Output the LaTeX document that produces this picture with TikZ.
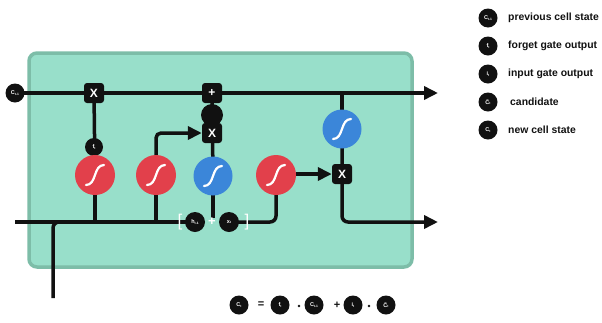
\documentclass[tikz,border=0pt]{standalone}
\usepackage{fontspec}
\setmainfont{Liberation Sans}
\usetikzlibrary{arrows.meta}
\pgfdeclarelayer{bg}
\pgfdeclarelayer{wires}
\pgfsetlayers{bg,wires,main}

\definecolor{cellfill}{HTML}{98DFCA}
\definecolor{celledge}{HTML}{7DBDA8}
\definecolor{sigred}{HTML}{E2404B}
\definecolor{tanhblue}{HTML}{3B86D9}
\definecolor{ink}{HTML}{111111}

% small subscript used inside the black label dots
\newcommand\lsub[1]{\raisebox{-0.7pt}{\fontsize{3.3}{3.3}\selectfont #1}}

\tikzset{
  wire/.style={line width=3.5pt, draw=ink},
  arr/.style={wire, -{Triangle[length=14pt,width=13pt]}},
  opbox/.style={fill=ink, rounded corners=3pt, minimum size=20pt, inner sep=0pt,
    text=white, font=\bfseries\fontsize{12}{12}\selectfont},
  dotc/.style={circle, fill=ink, minimum size=#1, inner sep=0pt, text=white,
    font=\bfseries\fontsize{5.5}{5.5}\selectfont},
  dotc/.default=19pt,
  scurve/.style={path picture={
    \draw[white, line width=2.2pt, line cap=round]
      ([shift={(-9pt,-10pt)}]path picture bounding box.center)
      .. controls +(11pt,0pt) and +(-11pt,0pt) ..
      ([shift={(9pt,10pt)}]path picture bounding box.center);}},
  sigc/.style={circle, fill=sigred, minimum size=40pt, inner sep=0pt, scurve},
  tanhc/.style={circle, fill=tanhblue, minimum size=39pt, inner sep=0pt, scurve},
  bracket/.style={text=white, font=\fontsize{17}{17}\selectfont, inner sep=0pt},
  eqop/.style={text=ink, font=\bfseries\fontsize{11}{11}\selectfont, inner sep=0pt},
  legend/.style={anchor=west, text=ink, inner sep=0pt,
    font=\bfseries\fontsize{10.4}{12}\selectfont},
  mult/.style={circle, fill=ink, minimum size=2.6pt, inner sep=0pt}
}

\begin{document}
\begin{tikzpicture}[x=1pt, y=-1pt]
\useasboundingbox (0,0) rectangle (602,322);

% ---- nodes of the cell ----
\node[dotc] (cprev) at (15,93) {C\lsub{t-1}};
\node[opbox] (fx) at (94,93) {X};
\node[opbox] (plus) at (212,93) {+};
\coordinate (cout) at (438,93);

\node[dotc=18pt] (ft) at (94,147) {f\lsub{t}};
\node[sigc] (s1) at (95,175) {};
\node[sigc] (s2) at (156,175) {};
\node[tanhc] (t1) at (213,176) {};
\node[sigc] (s3) at (276,175) {};
\node[tanhc] (t2) at (342,129) {};

\node[dotc=22pt] (dot) at (212,115) {};
\node[opbox] (xi) at (212,133) {X};
\node[opbox] (xo) at (342,174) {X};

\coordinate (hleft) at (15,222);
\coordinate (xin) at (53,298);
\node[bracket] (lb) at (180,222) {[};
\node[dotc=20pt] (hprev) at (195,222) {h\lsub{t-1}};
\node[text=white, font=\bfseries\fontsize{13}{13}\selectfont, inner sep=0pt] (cat) at (212,222) {+};
\node[dotc=20pt] (xt) at (229,222) {x\lsub{t}};
\node[bracket] (rb) at (247,222) {]};
\coordinate (hout) at (438,222);

% ---- cell body ----
\begin{pgfonlayer}{bg}
  \draw[fill=cellfill, draw=celledge, line width=3.5pt, rounded corners=8pt]
    (29,53) rectangle (412,267);
\end{pgfonlayer}

% ---- connectors ----
\begin{pgfonlayer}{wires}
  \draw[arr] (cprev.center) -- (cout);
  \draw[wire] (fx.center) -- (s1.center);
  \draw[arr, rounded corners=5pt] (s2.center) |- (xi.west);
  \draw[wire] (t1.center) -- (plus.center);
  \draw[wire] (t1.center) -- (t1 |- cat.north);
  \draw[wire] (t2.center) -- (t2 |- plus);
  \draw[arr, rounded corners=6pt] (t2.center) |- (hout);
  \draw[arr] (s3.east |- xo) -- (xo.west);

  \draw[wire] (hleft) -- (hprev.center);
  \draw[wire, rounded corners=6pt] (xin) |- (hprev.center);
  \draw[wire] (s1.center) -- (s1 |- hleft);
  \draw[wire] (s2.center) -- (s2 |- hleft);
  \draw[wire, rounded corners=6pt] (xt.center) -| (s3.center);
\end{pgfonlayer}

% ---- legend ----
\node[dotc] (k1) at (488,18) {C\lsub{t-1}};
\node[legend] (l1) at (508,18) {previous cell state};
\node[dotc] (k2) at (488,46) {f\lsub{t}};
\node[legend] (l2) at (508,46) {forget gate output};
\node[dotc] (k3) at (488,74) {i\lsub{t}};
\node[legend] (l3) at (508,74) {input gate output};
\node[dotc] (k4) at (488,102) {\~C\lsub{t}};
\node[legend] (l4) at (510,102) {candidate};
\node[dotc] (k5) at (488,130) {C\lsub{t}};
\node[legend] (l5) at (508,130) {new cell state};

% ---- update equation ----
\node[dotc] (eC) at (239,305) {C\lsub{t}};
\node[eqop] (eq) at (261,305) {=};
\node[dotc] (ef) at (280,305) {f\lsub{t}};
\node[mult] (m1) at (299,306) {};
\node[dotc] (eCp) at (314,305) {C\lsub{t-1}};
\node[eqop] (ep) at (337,305) {+};
\node[dotc] (ei) at (353,305) {i\lsub{t}};
\node[mult] (m2) at (369,306) {};
\node[dotc] (eCt) at (386,305) {\~C\lsub{t}};
\end{tikzpicture}
\end{document}
